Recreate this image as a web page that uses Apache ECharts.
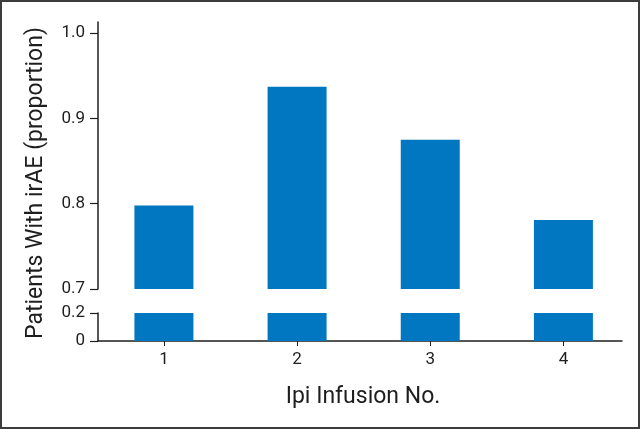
<!DOCTYPE html>
<html>
<head>
<meta charset="utf-8">
<script src="https://cdn.jsdelivr.net/npm/echarts@6/dist/echarts.min.js"></script>
<style>
  html, body { margin: 0; padding: 0; background: #fff; }
  #chart { width: 640px; height: 429px; }
</style>
</head>
<body>
<div id="chart"></div>
<script>
// ipi infusion number vs proportion of patients with irAE
const infusions = [1, 2, 3, 4]
const proportions = [0.798, 0.937, 0.875, 0.781]
const upperTicks = [0.7, 0.8, 0.9, 1.0]
const lowerTicks = [0, 0.2]

const FONT = '"Liberation Sans Narrow", "Roboto", sans-serif'
const INK = '#1e1e1e'
const BLUE = '#0077c0'

const barData = infusions.map((n, i) => [n, proportions[i]])
const fmt = v => (v === 0 ? '0' : v.toFixed(1))

const chart = echarts.init(document.getElementById('chart'))

const xCommon = {
  type: 'value',
  min: 0.505,
  max: 4.44,
  splitLine: { show: false }
}

const yLabel = ticks => ({
  customValues: ticks,
  formatter: fmt,
  margin: 13,
  fontFamily: FONT,
  fontSize: 17,
  color: INK
})

chart.setOption({
  animation: false,
  backgroundColor: '#fff',
  graphic: [
    {
      type: 'rect',
      shape: { x: 1, y: 1, width: 638, height: 427 },
      style: { fill: null, stroke: '#3c3c3c', lineWidth: 2 }
    },
    {
      type: 'text',
      x: 36,
      y: 183,
      rotation: Math.PI / 2,
      style: {
        text: 'Patients With irAE (proportion)',
        font: '23px ' + FONT,
        fill: INK,
        align: 'center',
        verticalAlign: 'middle'
      }
    }
  ],
  grid: [
    { left: 98, width: 524, top: 22, height: 267 }, // 0.7 - 1.0
    { left: 98, width: 524, top: 313, height: 28 } // 0 - 0.2
  ],
  xAxis: [
    Object.assign({}, xCommon, {
      gridIndex: 0,
      show: false
    }),
    Object.assign({}, xCommon, {
      gridIndex: 1,
      name: 'Ipi Infusion No.',
      nameLocation: 'middle',
      nameGap: 45,
      nameTextStyle: { fontFamily: FONT, fontSize: 23, color: INK, padding: [0, 0, 0, 6] },
      axisLine: { lineStyle: { color: INK, width: 1.5 } },
      axisTick: { show: true, length: 5, customValues: infusions, lineStyle: { color: INK } },
      axisLabel: {
        customValues: infusions,
        margin: 10,
        fontFamily: FONT,
        fontSize: 17,
        color: INK
      }
    })
  ],
  yAxis: [
    {
      type: 'value',
      gridIndex: 0,
      min: 0.7,
      max: 1.0129,
      splitLine: { show: false },
      axisLine: { show: true, lineStyle: { color: INK, width: 1.5 } },
      axisTick: { show: true, length: 8, customValues: upperTicks, lineStyle: { color: INK, width: 1.2 } },
      axisLabel: yLabel(upperTicks)
    },
    {
      type: 'value',
      gridIndex: 1,
      min: 0,
      max: 0.2,
      splitLine: { show: false },
      axisLine: { show: true, lineStyle: { color: INK, width: 1.5 } },
      axisTick: { show: true, length: 8, customValues: lowerTicks, lineStyle: { color: INK, width: 1.2 } },
      axisLabel: yLabel(lowerTicks)
    }
  ],
  series: [
    {
      type: 'bar',
      xAxisIndex: 0,
      yAxisIndex: 0,
      barWidth: 59,
      clip: true,
      itemStyle: { color: BLUE },
      data: barData
    },
    {
      type: 'bar',
      xAxisIndex: 1,
      yAxisIndex: 1,
      barWidth: 59,
      clip: true,
      itemStyle: { color: BLUE },
      data: barData
    }
  ]
})
</script>
</body>
</html>
